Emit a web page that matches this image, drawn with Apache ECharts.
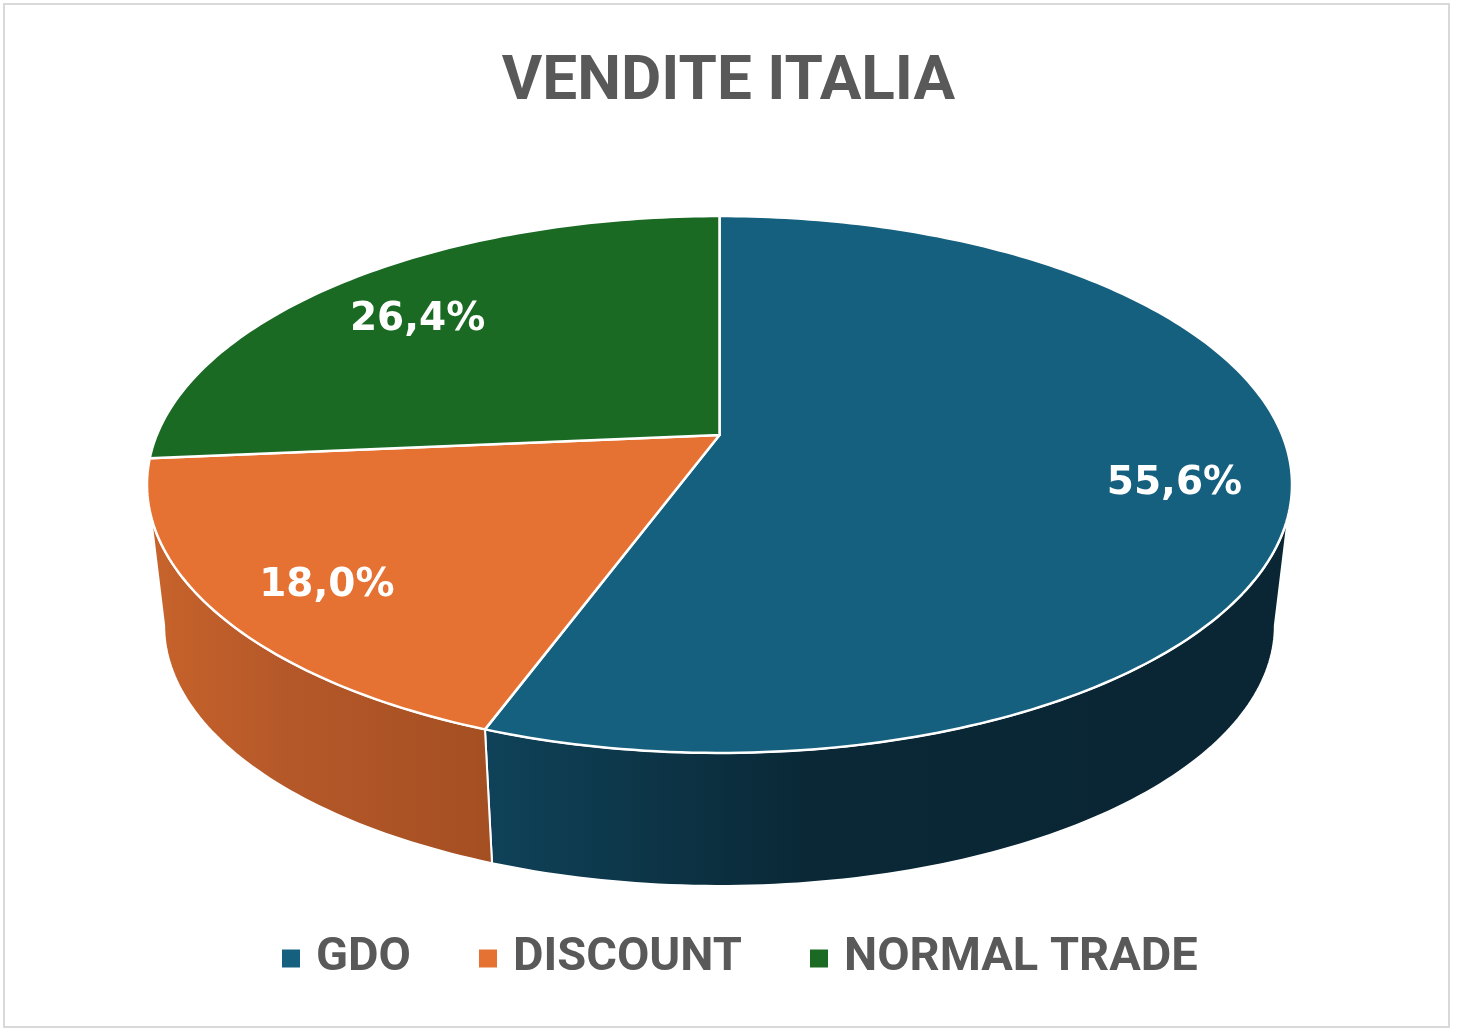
<!DOCTYPE html>
<html>
<head>
<meta charset="utf-8">
<script src="https://cdn.jsdelivr.net/npm/echarts@6/dist/echarts.min.js"></script>
<style>
html,body{margin:0;padding:0;background:#fff;}
#chart{width:1457px;height:1035px;}
</style>
</head>
<body>
<div id="chart"></div>
<script>
// ---- data ----
const categories = ['GDO', 'DISCOUNT', 'NORMAL TRADE'];
const values = [55.6, 18.0, 26.4];
const labelTexts = ['55,6%', '18,0%', '26,4%'];
const topColors = ['#16607F', '#E57232', '#1B6A24'];
const sideStops = [
  ['#0F4259', '#0A2836', '#0A2533'],
  ['#C8632B', '#B55829', '#A44F22'],
  ['#155A1E', '#11491A', '#0E3C15']
];

// ---- projection of the tilted disc (perspective) ----
const CX = 719.5, APEX_Y = 435, Q = -0.1844, RX = 562.7, RY = 179.1;
const S_BOT = 0.97, YV = 5187;
const LABEL_R = 0.8, LABEL_DY = 12;
const total = values.reduce((a, b) => a + b, 0);
const PHI_R = Math.acos(Q) * 180 / Math.PI;
const PHI_L = 360 - PHI_R;

function proj(phiDeg, r) {
  const p = phiDeg * Math.PI / 180;
  const u = r * Math.sin(p), v = -r * Math.cos(p);
  const w = 1 + Q * v;
  return [CX + RX * u / w, (RY * v + APEX_Y) / w];
}
function projBottom(phiDeg) {
  const t = proj(phiDeg, 1);
  return [CX + S_BOT * (t[0] - CX), t[1] * S_BOT + (1 - S_BOT) * YV];
}
function sliceAngles(i, val) {
  let before = 0;
  for (let k = 0; k < i; k++) before += values[k];
  const start = 360 * before / total;
  return [start, start + 360 * val / total];
}
function arc(a, b, fn) {
  const pts = [];
  const n = Math.max(2, Math.ceil(Math.abs(b - a)));
  for (let k = 0; k <= n; k++) pts.push(fn(a + (b - a) * k / n));
  return pts;
}

function sideRenderer(i) {
  return function (params, api) {
    const [start, end] = sliceAngles(i, api.value(0));
    const a = Math.max(start, PHI_R), b = Math.min(end, PHI_L);
    if (!(a < b)) return { type: 'group', children: [] };
    const top = arc(a, b, p => proj(p, 1));
    const bot = arc(b, a, projBottom);
    const pts = top.concat(bot);
    let minX = Infinity, maxX = -Infinity;
    pts.forEach(p => { minX = Math.min(minX, p[0]); maxX = Math.max(maxX, p[0]); });
    const st = sideStops[i];
    const fill = new echarts.graphic.LinearGradient(minX, 0, maxX, 0, [
      { offset: 0, color: st[0] }, { offset: 0.4, color: st[1] }, { offset: 1, color: st[2] }
    ], true);
    return {
      type: 'polygon',
      shape: { points: pts },
      style: { fill: fill, stroke: '#ffffff', lineWidth: 2, lineJoin: 'round' }
    };
  };
}
function topRenderer(i) {
  return function (params, api) {
    const [start, end] = sliceAngles(i, api.value(0));
    const pts = [proj(0, 0)].concat(arc(start, end, p => proj(p, 1)));
    const mid = (start + end) / 2;
    const lp = proj(mid, LABEL_R);
    return {
      type: 'group',
      children: [
        {
          type: 'polygon',
          shape: { points: pts },
          style: { fill: topColors[i], stroke: '#ffffff', lineWidth: 2.5, lineJoin: 'round' }
        },
        {
          type: 'text',
          x: lp[0], y: lp[1] + LABEL_DY,
          style: {
            text: labelTexts[i], fill: '#ffffff',
            font: 'bold 39px "DejaVu Sans"',
            align: 'center', verticalAlign: 'middle'
          }
        }
      ]
    };
  };
}

const series = [];
categories.forEach((name, i) => {
  series.push({
    name: name, type: 'custom', coordinateSystem: 'none', z: 1,
    itemStyle: { color: topColors[i] },
    data: [values[i]], renderItem: sideRenderer(i), silent: true
  });
});
categories.forEach((name, i) => {
  series.push({
    name: name, type: 'custom', coordinateSystem: 'none', z: 2,
    itemStyle: { color: topColors[i] },
    data: [values[i]], renderItem: topRenderer(i), silent: true
  });
});

const chart = echarts.init(document.getElementById('chart'), null, { renderer: 'canvas' });
chart.setOption({
  backgroundColor: '#ffffff',
  animation: false,
  title: {
    text: 'VENDITE ITALIA',
    left: 'center', top: 47,
    textStyle: { fontFamily: 'Roboto', fontWeight: 'bold', fontSize: 62, color: '#595959' }
  },
  legend: {
    data: categories,
    left: 277, top: 930,
    icon: 'rect', itemWidth: 18, itemHeight: 18, itemGap: 68,
    textStyle: { fontFamily: 'Roboto', fontWeight: 'bold', fontSize: 47, color: '#595959', padding: [0, 0, 0, 11] }
  },
  graphic: [{
    type: 'rect', z: -1,
    shape: { x: 4, y: 4, width: 1445, height: 1023 },
    style: { fill: 'none', stroke: '#D9D9D9', lineWidth: 2 }
  }],
  series: series
});
</script>
</body>
</html>
